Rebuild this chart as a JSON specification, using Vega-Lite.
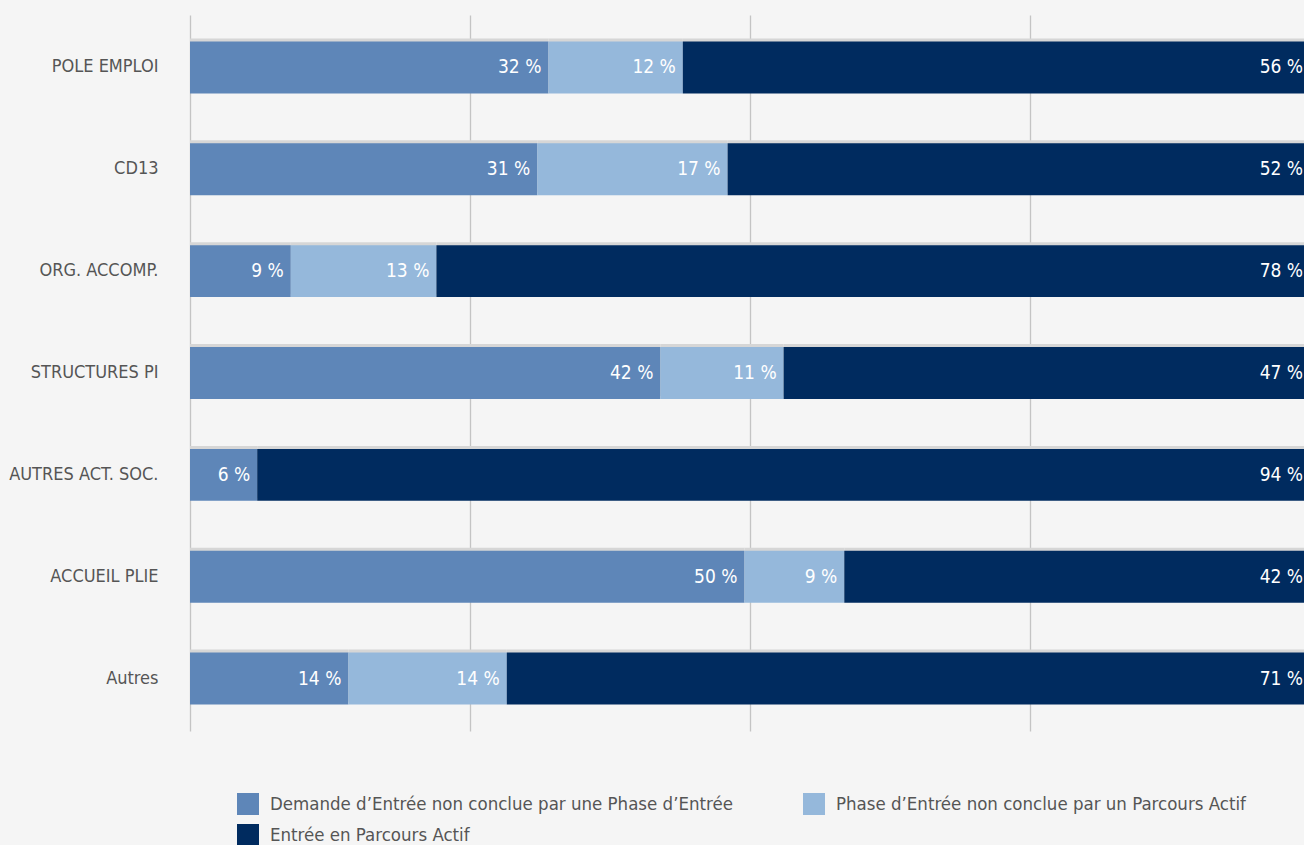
{
  "$schema": "https://vega.github.io/schema/vega-lite/v6.json",
  "autosize": "none",
  "width": 1114,
  "height": 716,
  "padding": {"left": 190, "top": 15, "right": 0, "bottom": 114},
  "background": "#f5f5f5",
  "config": {
    "view": {"stroke": null},
    "font": "DejaVu Sans Condensed, Liberation Sans Narrow, Roboto"
  },
  "data": {
    "values": [
      {"org": "POLE EMPLOI", "cat": "Demande d’Entrée non conclue par une Phase d’Entrée", "order": 1, "value": 32},
      {"org": "POLE EMPLOI", "cat": "Phase d’Entrée non conclue par un Parcours Actif", "order": 2, "value": 12},
      {"org": "POLE EMPLOI", "cat": "Entrée en Parcours Actif", "order": 3, "value": 56},
      {"org": "CD13", "cat": "Demande d’Entrée non conclue par une Phase d’Entrée", "order": 1, "value": 31},
      {"org": "CD13", "cat": "Phase d’Entrée non conclue par un Parcours Actif", "order": 2, "value": 17},
      {"org": "CD13", "cat": "Entrée en Parcours Actif", "order": 3, "value": 52},
      {"org": "ORG. ACCOMP.", "cat": "Demande d’Entrée non conclue par une Phase d’Entrée", "order": 1, "value": 9},
      {"org": "ORG. ACCOMP.", "cat": "Phase d’Entrée non conclue par un Parcours Actif", "order": 2, "value": 13},
      {"org": "ORG. ACCOMP.", "cat": "Entrée en Parcours Actif", "order": 3, "value": 78},
      {"org": "STRUCTURES PI", "cat": "Demande d’Entrée non conclue par une Phase d’Entrée", "order": 1, "value": 42},
      {"org": "STRUCTURES PI", "cat": "Phase d’Entrée non conclue par un Parcours Actif", "order": 2, "value": 11},
      {"org": "STRUCTURES PI", "cat": "Entrée en Parcours Actif", "order": 3, "value": 47},
      {"org": "AUTRES ACT. SOC.", "cat": "Demande d’Entrée non conclue par une Phase d’Entrée", "order": 1, "value": 6},
      {"org": "AUTRES ACT. SOC.", "cat": "Phase d’Entrée non conclue par un Parcours Actif", "order": 2, "value": 0},
      {"org": "AUTRES ACT. SOC.", "cat": "Entrée en Parcours Actif", "order": 3, "value": 94},
      {"org": "ACCUEIL PLIE", "cat": "Demande d’Entrée non conclue par une Phase d’Entrée", "order": 1, "value": 50},
      {"org": "ACCUEIL PLIE", "cat": "Phase d’Entrée non conclue par un Parcours Actif", "order": 2, "value": 9},
      {"org": "ACCUEIL PLIE", "cat": "Entrée en Parcours Actif", "order": 3, "value": 42},
      {"org": "Autres", "cat": "Demande d’Entrée non conclue par une Phase d’Entrée", "order": 1, "value": 14},
      {"org": "Autres", "cat": "Phase d’Entrée non conclue par un Parcours Actif", "order": 2, "value": 14},
      {"org": "Autres", "cat": "Entrée en Parcours Actif", "order": 3, "value": 71}
    ]
  },
  "transform": [
    {
      "stack": "value",
      "groupby": ["org"],
      "sort": [{"field": "order", "order": "ascending"}],
      "offset": "normalize",
      "as": ["x0", "x1"]
    },
    {"calculate": "datum.value + ' %'", "as": "label"}
  ],
  "encoding": {
    "y": {
      "field": "org",
      "type": "nominal",
      "sort": ["POLE EMPLOI", "CD13", "ORG. ACCOMP.", "STRUCTURES PI", "AUTRES ACT. SOC.", "ACCUEIL PLIE", "Autres"],
      "scale": {"paddingInner": 0.49, "paddingOuter": 0.26},
      "axis": {
        "title": null,
        "domain": false,
        "ticks": false,
        "labelFontSize": 18,
        "labelColor": "#555555",
        "labelPadding": 32,
        "labelLimit": 200
      }
    }
  },
  "layer": [
    {
      "mark": {"type": "bar", "color": "#d6d6d6", "yOffset": -3, "clip": true},
      "encoding": {
        "x": {
          "field": "x0",
          "type": "quantitative",
          "scale": {"domain": [0, 0.9946], "nice": false, "zero": true},
          "axis": {
            "title": null,
            "labels": false,
            "ticks": false,
            "domain": false,
            "values": [0, 0.25, 0.5, 0.75],
            "grid": true,
            "gridColor": "#c4c4c4",
            "gridWidth": 1.3
          }
        },
        "x2": {"field": "x1"}
      }
    },
    {
      "mark": {"type": "bar", "clip": true},
      "encoding": {
        "x": {"field": "x0", "type": "quantitative"},
        "x2": {"field": "x1"},
        "color": {
          "field": "cat",
          "type": "nominal",
          "sort": ["Demande d’Entrée non conclue par une Phase d’Entrée", "Phase d’Entrée non conclue par un Parcours Actif", "Entrée en Parcours Actif"],
          "scale": {
            "domain": ["Demande d’Entrée non conclue par une Phase d’Entrée", "Phase d’Entrée non conclue par un Parcours Actif", "Entrée en Parcours Actif"],
            "range": ["#5e86b8", "#95b8db", "#002b5f"]
          },
          "legend": {
            "title": null,
            "orient": "none",
            "legendX": 47,
            "legendY": 778,
            "direction": "horizontal",
            "columns": 2,
            "columnPadding": 70,
            "rowPadding": 9,
            "symbolType": "square",
            "symbolSize": 484,
            "symbolStrokeWidth": 0,
            "labelFontSize": 18.5,
            "labelColor": "#555555",
            "labelOffset": 11,
            "labelLimit": 600,
            "padding": 0
          }
        }
      }
    },
    {
      "transform": [{"filter": "datum.value > 0"}],
      "mark": {"type": "text", "align": "right", "baseline": "middle", "dx": -7, "fontSize": 19, "color": "#ffffff"},
      "encoding": {
        "x": {"field": "x1", "type": "quantitative"},
        "text": {"field": "label", "type": "nominal"}
      }
    }
  ]
}
